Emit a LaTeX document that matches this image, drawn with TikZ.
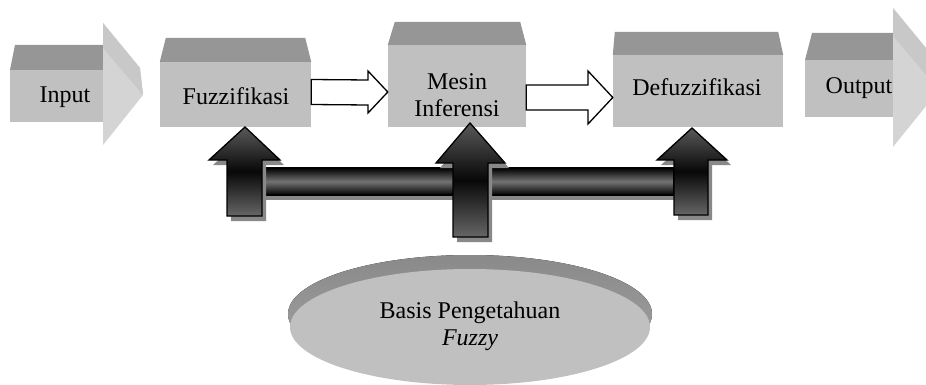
\documentclass[tikz,border=0pt]{standalone}
\usepackage{fontspec}
\setmainfont{Liberation Serif}
\usetikzlibrary{shadows}
\definecolor{boxfront}{RGB}{192,192,192}
\definecolor{boxtop}{RGB}{150,150,150}
\definecolor{headlight}{RGB}{212,212,212}
\definecolor{headbevel}{RGB}{200,200,200}
\definecolor{shadowgray}{RGB}{136,136,136}
\tikzset{
  frontbox/.style={rectangle, draw=none, fill=boxfront, inner sep=0pt},
  topface/.style={fill=boxtop},
  txt/.style={rectangle, draw=none, align=center, inner sep=0pt},
  hollowarrow/.style={draw=black, fill=white, line width=1.3pt, line join=miter},
  uparrow/.style={draw=black, line width=1.3pt, line join=miter,
    top color=black!65, bottom color=black!60, middle color=black!97,
    general shadow={fill=shadowgray, shadow xshift=4pt, shadow yshift=-5pt}},
  barstyle/.style={draw=black, line width=1.3pt,
    top color=black, bottom color=black, middle color=black!55,
    general shadow={fill=shadowgray, shadow xshift=4pt, shadow yshift=-5pt}}
}
\begin{document}
\begin{tikzpicture}[x=1pt, y=-1pt, font=\fontsize{24}{27}\selectfont]
\useasboundingbox (0,0) rectangle (926,385);
\clip (0,0) rectangle (926,385);
%%%%%%%%%%%%%%%%%%%%%%%%%%%%%%% knowledge base
\fill[top color=boxtop!92!black, bottom color=boxfront!85!black] (470,314) ellipse [x radius=182, y radius=59];
\fill[boxfront] (470,327) ellipse [x radius=180, y radius=58];
\node[txt](basis) at (470,326){Basis Pengetahuan\\\textit{Fuzzy}};

%%%%%%%%%%%%%%%%%%%%%%%%%%%%%%% input arrow
\fill[topface] (10,70) -- (15,45) -- (103,45) -- (105,70) -- cycle;
\fill[boxfront] (10,70) rectangle (104,122);
\fill[headlight] (103,23) -- (140,68) -- (143,95) -- (103,145) -- cycle;
\fill[headbevel] (103,23) -- (140,68) -- (143,95) -- (103,48) -- cycle;
\node[txt](input) at (65,97){Input};

%%%%%%%%%%%%%%%%%%%%%%%%%%%%%%% output arrow
\fill[topface] (805,60) -- (812,33) -- (894,33) -- (894,60) -- cycle;
\fill[boxfront] (805,60) rectangle (894,117);
\fill[headlight] (893,8) -- (935,59) -- (939,90) -- (893,147) -- cycle;
\fill[headbevel] (893,8) -- (935,59) -- (939,90) -- (893,36) -- cycle;
\node[txt](output) at (859,88){Output};

%%%%%%%%%%%%%%%%%%%%%%%%%%%%%%% process boxes
\node[frontbox, minimum width=151pt, minimum height=65pt](fuzz) at (235.5,94.5){};
\fill[topface] (fuzz.north west) -- ([shift={(6pt,24pt)}]fuzz.north west) -- ([shift={(-6pt,24pt)}]fuzz.north east) -- (fuzz.north east) -- cycle;
\node[txt](tFuzz) at (236,96){Fuzzifikasi};

\node[frontbox, minimum width=138pt, minimum height=82pt](mesin) at (457,86){};
\fill[topface] (mesin.north west) -- ([shift={(7pt,23pt)}]mesin.north west) -- ([shift={(-6pt,23pt)}]mesin.north east) -- (mesin.north east) -- cycle;
\node[txt](tMesin) at (457,95.5){Mesin\\Inferensi};

\node[frontbox, minimum width=170pt, minimum height=72pt](defuzz) at (698,91){};
\fill[topface] (defuzz.north west) -- ([shift={(2pt,23pt)}]defuzz.north west) -- ([shift={(-5pt,23pt)}]defuzz.north east) -- (defuzz.north east) -- cycle;
\node[txt](tDefuzz) at (697,87){Defuzzifikasi};

%%%%%%%%%%%%%%%%%%%%%%%%%%%%%%% flow arrows
\coordinate (flowA) at (fuzz.east |- 0,92);
\coordinate (flowB) at (mesin.east |- 0,97.5);
\draw[hollowarrow] ([yshift=12.5pt]flowA) -- (368,80) -- (368,71) -- (mesin.west |- 0,92) -- (368,113) -- (368,105) -- ([yshift=-12.5pt]flowA) -- cycle;
\draw[hollowarrow] ([yshift=12.5pt]flowB) -- (588,85) -- (588,71) -- (defuzz.west |- 0,97.5) -- (588,124) -- (588,110) -- ([yshift=-12.5pt]flowB) -- cycle;

%%%%%%%%%%%%%%%%%%%%%%%%%%%%%%% rule base links
\coordinate (barL) at (262,168);
\coordinate (barR) at (674,195);
\path[barstyle] (barL) rectangle (barR);
% Fuzzifikasi
\path[uparrow] (245,127) -- (280,160) -- (262,160) -- (262,216) -- (227,216) -- (227,160) -- (209,160) -- cycle;
% Defuzzifikasi
\path[uparrow] (692,128) -- (727,160) -- (708,160) -- (708,215) -- (674,215) -- (674,160) -- (657,160) -- cycle;
% Mesin Inferensi
\path[uparrow] (470,123) -- (505,163) -- (488,163) -- (488,237) -- (453,237) -- (453,163) -- (436,163) -- cycle;
\end{tikzpicture}
\end{document}
